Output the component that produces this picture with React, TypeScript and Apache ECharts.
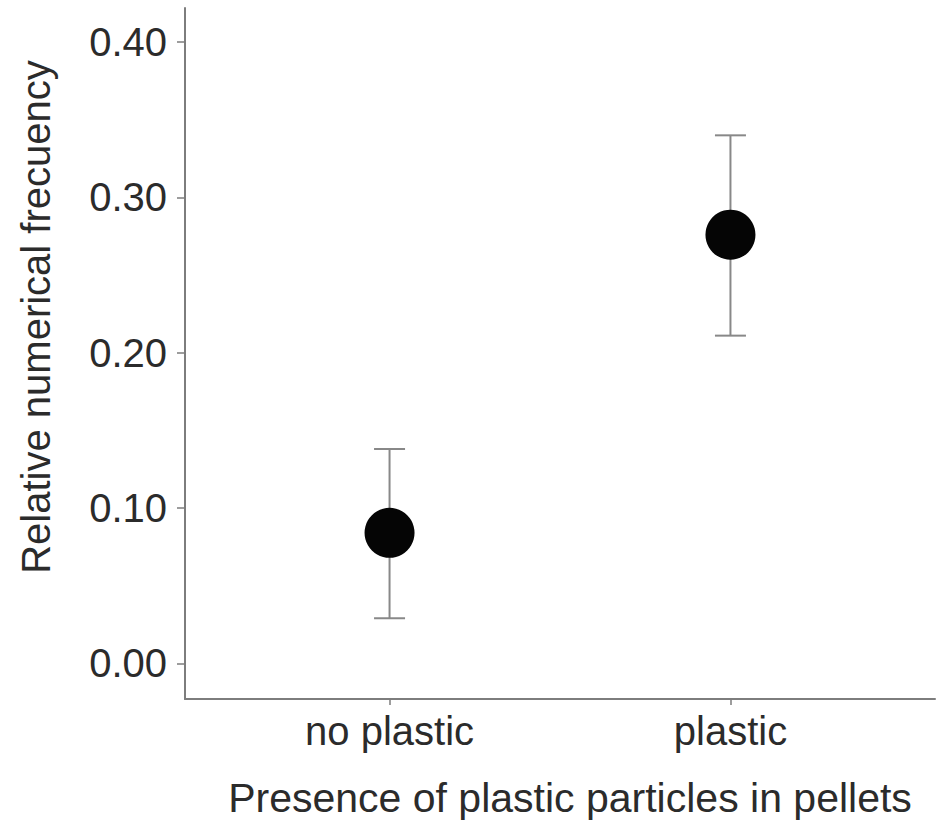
import React, { useEffect, useRef } from "react";
import * as echarts from "echarts";

const categories = ["no plastic", "plastic"];
const categoryPositions = [1, 2];
const means = [0.084, 0.276];
const lowerBounds = [0.029, 0.211];
const upperBounds = [0.138, 0.34];
const yTicks = [0, 0.1, 0.2, 0.3, 0.4];
const yTitle = "Relative numerical frecuency";
const xTitle = "Presence of plastic particles in pellets";

const FONT = '"Liberation Sans", Arial, Helvetica, sans-serif';
const TEXT_COLOR = "#2b2b2b";
const AXIS_COLOR = "#7d7d7d";

export default function App() {
  const ref = useRef<HTMLDivElement>(null);

  useEffect(() => {
    if (!ref.current) return;
    const chart = echarts.init(ref.current, undefined, { renderer: "svg" });

    const errData = categoryPositions.map((x, i) => [x, lowerBounds[i], upperBounds[i]]);
    const pointData = categoryPositions.map((x, i) => [x, means[i]]);

    chart.setOption({
      animation: false,
      backgroundColor: "#ffffff",
      grid: { left: 185, right: 9, top: 8, bottom: 122, containLabel: false },
      xAxis: {
        type: "value",
        min: 0.4,
        max: 2.6,
        splitLine: { show: false },
        axisLine: { show: true, onZero: false, lineStyle: { color: AXIS_COLOR, width: 2 } },
        axisTick: {
          show: true,
          customValues: categoryPositions,
          length: 6,
          lineStyle: { color: AXIS_COLOR, width: 1.5 },
        },
        axisLabel: {
          customValues: categoryPositions,
          formatter: (v: number) => categories[Math.round(v) - 1] ?? "",
          fontFamily: FONT,
          fontSize: 40,
          color: TEXT_COLOR,
          margin: 12,
        },
      },
      yAxis: {
        type: "value",
        min: -0.023,
        max: 0.422,
        splitLine: { show: false },
        axisLine: { show: true, onZero: false, lineStyle: { color: AXIS_COLOR, width: 2 } },
        axisTick: {
          show: true,
          customValues: yTicks,
          length: 8,
          lineStyle: { color: AXIS_COLOR, width: 1.5 },
        },
        axisLabel: {
          customValues: yTicks,
          formatter: (v: number) => v.toFixed(2),
          fontFamily: FONT,
          fontSize: 40,
          color: TEXT_COLOR,
          margin: 18,
        },
      },
      graphic: [
        {
          type: "text",
          x: 36,
          y: 317,
          rotation: Math.PI / 2,
          style: {
            text: yTitle,
            fontFamily: FONT,
            fontSize: 40,
            fill: TEXT_COLOR,
            align: "center",
            verticalAlign: "middle",
          },
        },
        {
          type: "text",
          x: 570,
          y: 798,
          style: {
            text: xTitle,
            fontFamily: FONT,
            fontSize: 41,
            fill: TEXT_COLOR,
            align: "center",
            verticalAlign: "middle",
          },
        },
      ],
      series: [
        {
          type: "custom",
          data: errData,
          z: 1,
          renderItem: (params: any, api: any) => {
            const x = api.value(0);
            const lo = api.coord([x, api.value(1)]);
            const hi = api.coord([x, api.value(2)]);
            const half = 15.5;
            const style = { stroke: "#888888", lineWidth: 2 };
            return {
              type: "group",
              children: [
                { type: "line", shape: { x1: lo[0], y1: lo[1], x2: hi[0], y2: hi[1] }, style },
                { type: "line", shape: { x1: hi[0] - half, y1: hi[1], x2: hi[0] + half, y2: hi[1] }, style },
                { type: "line", shape: { x1: lo[0] - half, y1: lo[1], x2: lo[0] + half, y2: lo[1] }, style },
              ],
            };
          },
        },
        {
          type: "scatter",
          data: pointData,
          z: 2,
          symbol: "circle",
          symbolSize: 50,
          itemStyle: { color: "#050505", opacity: 1 },
        },
      ],
    });

    return () => chart.dispose();
  }, []);

  return (
    <div
      ref={ref}
      style={{ position: "fixed", left: 0, top: 0, width: 944, height: 821 }}
    />
  );
}
